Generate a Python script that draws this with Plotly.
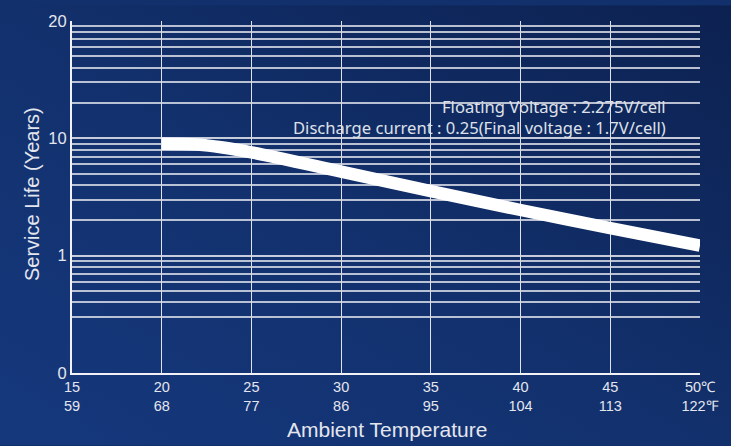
import base64
import plotly.graph_objects as go

# ---- data ----
temp_c = [20, 22, 25, 30, 35, 40, 45, 50]
life_years = [9.0, 8.85, 7.6, 5.2, 3.55, 2.45, 1.72, 1.22]

x_tick_vals = [15, 20, 25, 30, 35, 40, 45, 50]
x_tick_text = ["15<br>59", "20<br>68", "25<br>77", "30<br>86", "35<br>95",
               "40<br>104", "45<br>113", "50℃<br>122℉"]
x_grid_vals = [20, 25, 30, 35, 40, 45]

y_tick_vals = [0.1, 1, 10, 100]
y_tick_text = ["0", "1", "10", "20"]
y_grid_vals = [0.3, 0.4, 0.5, 0.6, 0.7, 0.8, 0.9,
               2, 3, 4, 5, 6, 7, 8, 9,
               20, 30, 40, 50, 60, 70, 80, 90]

note_1 = "Floating Voltage : 2.275V/cell"
note_2 = "Discharge current : 0.25(Final voltage : 1.7V/cell)"
x_title = "Ambient Temperature"
y_title = "Service Life (Years)"

# ---- layout geometry ----
W, H = 731, 446
ML, MR, MT, MB = 72, 31, 16, 73
PW, PH = W - ML - MR, H - MT - MB

TXT = "#e4e6ee"
FONT = "Liberation Sans, Arial, sans-serif"

svg = (
    f'<svg xmlns="http://www.w3.org/2000/svg" width="{W}" height="{H}" preserveAspectRatio="none">'
    '<defs><linearGradient id="g" x1="0" y1="1" x2="1" y2="0">'
    '<stop offset="0" stop-color="#15387d"/>'
    '<stop offset="0.5" stop-color="#12306c"/>'
    '<stop offset="1" stop-color="#0c2150"/>'
    '</linearGradient></defs>'
    f'<rect width="{W}" height="{H}" fill="url(#g)"/></svg>'
)
bg_src = "data:image/svg+xml;base64," + base64.b64encode(svg.encode()).decode()

fig = go.Figure()
fig.add_trace(go.Scatter(
    x=temp_c, y=life_years, mode="lines",
    line=dict(color="white", width=12.5, shape="spline", smoothing=0.8),
    hoverinfo="skip",
))

note_font = dict(family="Noto Sans, sans-serif", size=16.6, color="#dfe1ea")

fig.update_layout(
    width=W, height=H,
    margin=dict(l=ML, r=MR, t=MT, b=MB),
    paper_bgcolor="#12306c",
    plot_bgcolor="rgba(0,0,0,0)",
    showlegend=False,
    images=[dict(
        source=bg_src, xref="paper", yref="paper",
        x=-ML / PW, y=1 + MT / PH, sizex=W / PW, sizey=H / PH,
        xanchor="left", yanchor="top", sizing="stretch", layer="below",
    )],
    xaxis=dict(
        range=[15, 50], tickmode="array", tickvals=x_tick_vals, ticktext=x_tick_text,
        showgrid=False, zeroline=False, ticks="",
        showline=True, linecolor="#f2f2f6", linewidth=2,
        tickfont=dict(family=FONT, size=14.5, color=TXT),
        minor=dict(tickmode="array", tickvals=x_grid_vals, showgrid=True,
                   gridcolor="rgba(236,236,242,0.95)", gridwidth=1.4, ticks=""),
        fixedrange=True,
    ),
    yaxis=dict(
        type="log", range=[-1, 2], tickmode="array", tickvals=y_tick_vals,
        ticktext=y_tick_text, showgrid=True, gridcolor="rgba(220,222,232,0.9)",
        gridwidth=1.6, zeroline=False, ticks="",
        showline=True, linecolor="#f2f2f6", linewidth=2,
        tickfont=dict(family=FONT, size=16.5, color=TXT),
        minor=dict(tickmode="array", tickvals=y_grid_vals, showgrid=True,
                   gridcolor="rgba(215,218,230,0.85)", gridwidth=1.6, ticks=""),
        fixedrange=True,
    ),
    annotations=[
        dict(text=note_1, xref="paper", yref="paper", x=(668 - ML) / PW,
             y=(H - MB - 103) / PH, xanchor="right", yanchor="middle", showarrow=False,
             font=note_font),
        dict(text=note_2, xref="paper", yref="paper", x=(668 - ML) / PW,
             y=(H - MB - 124) / PH, xanchor="right", yanchor="middle", showarrow=False,
             font=note_font),
        dict(text=x_title, xref="paper", yref="paper", x=(387 - ML) / PW,
             y=(H - MB - 430) / PH, xanchor="center", yanchor="middle", showarrow=False,
             font=dict(family=FONT, size=21, color=TXT)),
        dict(text=y_title, xref="paper", yref="paper", x=(32 - ML) / PW,
             y=(H - MB - 191.5) / PH, xanchor="center", yanchor="middle", showarrow=False,
             textangle=-90, font=dict(family=FONT, size=20, color=TXT)),
    ],
)

fig.write_html("out.html")
